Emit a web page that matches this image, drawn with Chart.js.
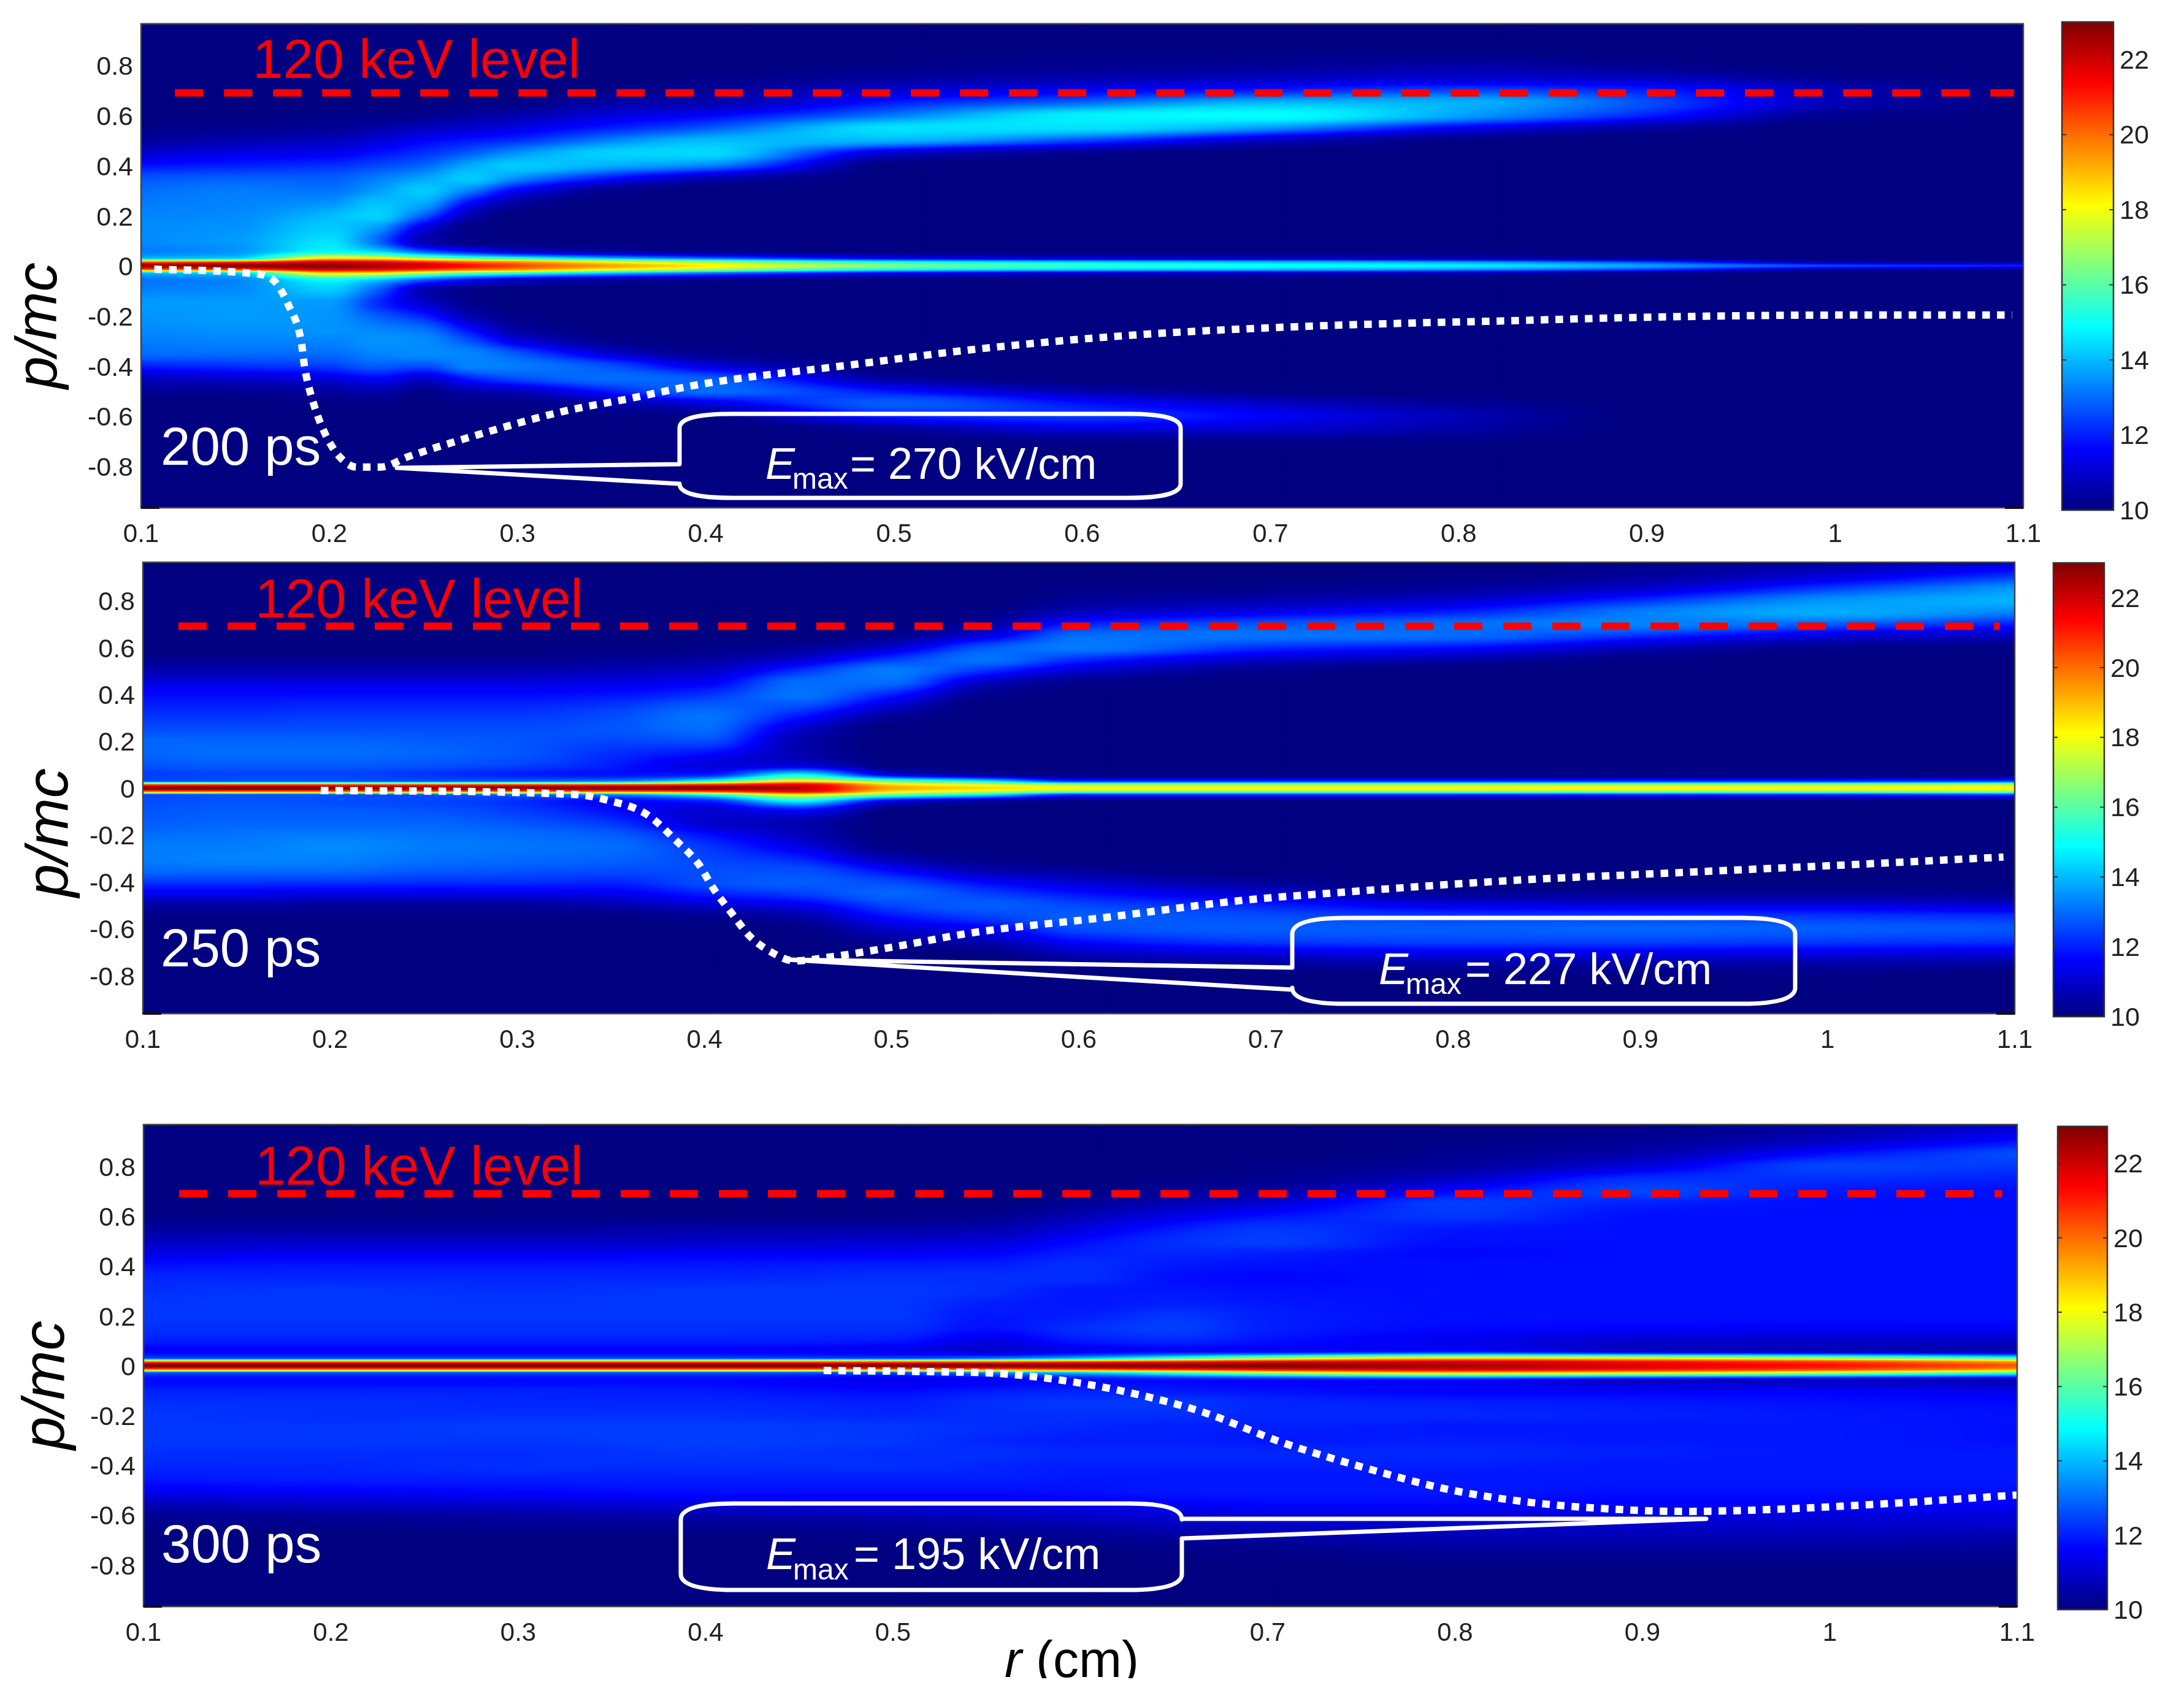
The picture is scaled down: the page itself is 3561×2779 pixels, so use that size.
<!DOCTYPE html>
<html>
<head>
<meta charset="utf-8">
<title>p/mc phase space</title>
<script src="https://cdn.jsdelivr.net/npm/chart.js@4/dist/chart.umd.min.js"></script>
<style>
  html, body { margin: 0; padding: 0; background: #fff; }
  #stage { position: relative; width: 3561px; height: 2779px; overflow: hidden; }
  #stage canvas { position: absolute; left: 0; top: 0; }
</style>
</head>
<body>
<div id="stage"></div>
<script>
const rTicks = [0.1, 0.2, 0.3, 0.4, 0.5, 0.6, 0.7, 0.8, 0.9, 1, 1.1];
const rTicks300 = [0.1, 0.2, 0.3, 0.4, 0.5, 0.7, 0.8, 0.9, 1, 1.1]; // 0.6 is hidden in the original
const pTicks = [0.8, 0.6, 0.4, 0.2, 0, -0.2, -0.4, -0.6, -0.8];
const barTicks = [10, 12, 14, 16, 18, 20, 22];

// momentum rows shared by the three maps, top to bottom
const pGrid = [0.96,0.9,0.85,0.8,0.75,0.7,0.65,0.6,0.55,0.5,0.45,0.4,0.35,0.3,0.25,0.2,0.15,0.1,0.06,0.03,0.015,0,
  -0.015,-0.03,-0.06,-0.1,-0.15,-0.2,-0.25,-0.3,-0.35,-0.4,-0.45,-0.5,-0.55,-0.6,-0.65,-0.7,-0.75,-0.8,-0.85,-0.9,-0.96];

// 200 ps: one row per r value, one entry per pGrid value
const r200 = [0.1,0.15,0.2,0.225,0.25,0.275,0.3,0.35,0.4,0.5,0.6,0.7,0.8,0.9,1,1.1];
const heat200 = [
  [10,10,10,10,10,10,10,10,10.1,10.4,11,11.8,12.7,13,13.2,13.3,13.4,13.4,13.2,14,20,22.8,20,14,13.1,13.3,13.6,13.5,13.4,13.2,13,12,10.8,10.3,10,10,10,10,10,10,10,10,10],
  [10,10,10,10,10,10,10,10,10.2,10.6,11.3,12,12.8,13.2,13.3,13.4,13.5,13.6,13.5,14.3,20.5,23,20.5,14.3,13.3,13.4,13.6,13.6,13.5,13.3,13,12.2,11,10.3,10,10,10,10,10,10,10,10,10],
  [10,10,10,10,10,10,10,10.1,10.3,10.8,11.4,12.2,12.8,13.1,13.5,14,14.2,14.5,14.8,18.5,21.8,22.8,21.8,18.5,14.8,14.2,13.6,13.5,13.5,13.3,13,12.4,11.2,10.4,10.1,10,10,10,10,10,10,10,10],
  [10,10,10,10,10,10,10,10.1,10.5,11.1,11.8,12.5,13.2,13.6,14.1,14.3,13.6,13,14.2,18.2,21.5,22.5,21.5,18.2,14,12.8,12.2,12.8,13.3,13.5,13.3,12.8,11.6,10.6,10.1,10,10,10,10,10,10,10,10],
  [10,10,10,10,10,10,10,10.2,10.8,11.6,12.2,12.9,13.7,14.2,13.8,12.8,11.2,10.6,12.5,17,20.8,22,20.8,17,12.5,10.6,11,12,13,13.4,13.4,12.6,11,10.2,10,10,10,10,10,10,10,10,10],
  [10,10,10,10,10,10,10.1,10.4,11,11.9,12.8,13.8,14.2,13.2,11.6,10.6,10.1,10.1,11.5,16,20,21.2,20,16,11.5,10.1,10.2,10.6,11.6,12.6,13.3,13.3,12,10.6,10.1,10,10,10,10,10,10,10,10],
  [10,10,10,10,10,10,10.1,10.6,11.3,12.2,13.5,14.2,13.4,11.5,10.4,10,10,10,10.8,15.3,19.5,20.5,19.5,15.3,10.8,10,10,10.1,10.4,11.2,12.7,13.2,12.6,10.8,10.1,10,10,10,10,10,10,10,10],
  [10,10,10,10,10,10.1,10.5,11.2,12,13.3,14.3,13.8,11.8,10.2,10,10,10,10,10.3,14,18,19.3,18,14,10.3,10,10,10,10,10.2,11,12.6,13,12,10.5,10.1,10,10,10,10,10,10,10],
  [10,10,10,10,10.1,10.3,10.6,11.6,12.7,14,14.4,13.3,10.7,10,10,10,10,10,10.1,13,17,18.3,17,13,10.1,10,10,10,10,10,10.2,11.2,12.8,13,11.2,10.1,10,10,10,10,10,10,10],
  [10,10,10,10.1,10.4,11,12,13.2,14.5,13.9,11,10,10,10,10,10,10,10,10,11.5,15,16.5,15,11.5,10,10,10,10,10,10,10,10,10.4,11.8,12.8,12,10.4,10,10,10,10,10,10],
  [10,10,10.1,10.2,10.6,11.5,13,14.7,14.5,12.5,10.2,10,10,10,10,10,10,10,10,11,14.3,15.5,14.3,11,10,10,10,10,10,10,10,10,10,10.6,11.8,12.3,11.2,10.2,10,10,10,10,10],
  [10,10,10.1,10.3,10.8,12,14,14.9,13.5,10.8,10,10,10,10,10,10,10,10,10,10.8,14,15,14,10.8,10,10,10,10,10,10,10,10,10,10.1,10.9,11.5,11,10.2,10,10,10,10,10],
  [10,10,10.1,10.5,11,12.5,13.9,13.7,11.5,10.1,10,10,10,10,10,10,10,10,10,10.6,13.5,14.7,13.5,10.6,10,10,10,10,10,10,10,10,10,10,10.3,10.7,10.5,10.1,10,10,10,10,10],
  [10,10,10,10.2,10.8,12,12.6,12,10.4,10,10,10,10,10,10,10,10,10,10,10.2,12.4,13.7,12.4,10.2,10,10,10,10,10,10,10,10,10,10,10,10,10,10,10,10,10,10,10],
  [10,10,10,10,10.2,10.7,10.7,10.2,10,10,10,10,10,10,10,10,10,10,10,10,10.5,12.5,10.5,10,10,10,10,10,10,10,10,10,10,10,10,10,10,10,10,10,10,10,10],
  [10,10,10,10,10,10,10,10,10,10,10,10,10,10,10,10,10,10,10,10,10.3,12,10.3,10,10,10,10,10,10,10,10,10,10,10,10,10,10,10,10,10,10,10,10]
];

// 250 ps
const r250 = [0.1,0.15,0.2,0.25,0.3,0.35,0.4,0.45,0.5,0.55,0.6,0.7,0.8,0.9,1,1.1];
const heat250 = [
  [10,10,10,10,10,10,10,10,10.2,10.6,11.2,11.7,12,12.3,12.6,12.9,12.9,12.7,12.4,12.5,20,23,20,12.5,12.6,12.7,12.8,13,13.2,13.2,13,12.3,11.4,10.5,10.1,10,10,10,10,10,10,10,10],
  [10,10,10,10,10,10,10,10,10.2,10.6,11.2,11.7,12,12.3,12.6,12.9,13,12.8,12.5,12.6,20,23,20,12.6,12.7,12.8,12.9,13.1,13.2,13.3,13,12.3,11.4,10.5,10.1,10,10,10,10,10,10,10,10],
  [10,10,10,10,10,10,10,10,10.2,10.6,11.2,11.7,12.1,12.4,12.6,12.9,13,12.8,12.5,12.6,20,23,20,12.6,12.6,12.8,12.9,13.2,13.4,13.3,13,12.3,11.3,10.4,10.1,10,10,10,10,10,10,10,10],
  [10,10,10,10,10,10,10,10,10.2,10.6,11.2,11.7,12.1,12.4,12.6,12.8,12.9,12.7,12.3,12.6,20,23,20,12.6,12.5,12.7,12.9,13.1,13.2,13.1,12.8,12.2,11.3,10.4,10.1,10,10,10,10,10,10,10,10],
  [10,10,10,10,10,10,10,10,10.2,10.6,11.2,11.7,12.1,12.4,12.6,12.7,12.7,12.5,12,12.8,20,23,20,12.8,12.2,12.4,12.7,13,13.1,13,12.7,12.2,11.3,10.4,10.1,10,10,10,10,10,10,10,10],
  [10,10,10,10,10,10,10,10,10.3,10.7,11.3,11.8,12.3,12.6,12.7,12.5,12.2,12,11.8,13.2,20,23,20,13.2,11.6,11.8,12.3,12.8,13,12.9,12.6,12.1,11.4,10.6,10.1,10,10,10,10,10,10,10,10],
  [10,10,10,10,10,10,10,10.1,10.4,10.9,11.5,12.2,12.8,13.1,13,12.6,11.8,11.2,11.8,15,20.5,23,20.5,15,11.8,11,11,11.8,12.3,12.5,12.6,12.6,12,11,10.2,10,10,10,10,10,10,10,10],
  [10,10,10,10,10,10,10,10.3,11,12.2,13,13.1,12.6,11.8,11,10.6,10.6,11,14.5,18,21.5,22.3,21.5,18,14.5,11.5,10.6,10.8,11.3,12,12.6,12.8,12.4,11.4,10.5,10.1,10,10,10,10,10,10,10],
  [10,10,10,10,10,10,10.2,11,12.3,13.2,13,12,11,10.3,10,10,10,10,11,16,18.5,19.3,18.5,16,11,10,10,10,10.1,10.6,11.6,12.5,12.9,12.5,11.8,11,10.4,10,10,10,10,10,10],
  [10,10,10,10,10.1,10.4,11.2,12.7,13.1,12.2,10.8,10.2,10,10,10,10,10,10,10.2,14.5,17.5,18.6,17.5,14.5,10.2,10,10,10,10,10.1,10.6,11.6,12.4,12.8,12.4,11.5,10.7,10.1,10,10,10,10,10],
  [10,10,10.1,10.3,10.8,12,13,13.2,12.2,11,10.2,10,10,10,10,10,10,10,10,12,16.5,18.2,16.5,12,10,10,10,10,10,10,10.3,11,11.8,12.5,12.8,12.6,11.8,10.9,10.2,10,10,10,10],
  [10,10,10.2,10.6,11.4,12.7,13.1,12.2,11,10.2,10,10,10,10,10,10,10,10,10,12,16.5,18.2,16.5,12,10,10,10,10,10,10,10,10.3,11,12,12.6,12.8,12.4,11.3,10.4,10,10,10,10],
  [10,10.1,10.4,11,12,13,13,11.8,10.6,10,10,10,10,10,10,10,10,10,10,12,16.5,18.2,16.5,12,10,10,10,10,10,10,10,10,10.3,11.3,12.4,12.8,12.5,11.5,10.5,10.1,10,10,10],
  [10.1,10.4,11,12.2,13.2,13.3,12.2,10.8,10.1,10,10,10,10,10,10,10,10,10,10,12,16.5,18.3,16.5,12,10,10,10,10,10,10,10,10,10.3,11.2,12.4,12.9,12.5,11.5,10.5,10.1,10,10,10],
  [10.4,11.2,12.4,13.5,13.8,12.8,11.2,10.2,10,10,10,10,10,10,10,10,10,10,10,12,16.5,18.2,16.5,12,10,10,10,10,10,10,10,10,10.3,11.2,12.3,12.8,12.4,11.4,10.5,10.1,10,10,10],
  [11,12.4,13.6,13.9,13.3,12,10.8,10.1,10,10,10,10,10,10,10,10,10,10,10,12.3,16.8,18.3,16.8,12.3,10,10,10,10,10,10,10,10,10.2,11,12.2,12.7,12.3,11.3,10.4,10,10,10,10]
];

// 300 ps
const r300 = [0.1,0.2,0.3,0.4,0.5,0.55,0.6,0.65,0.7,0.8,0.9,1,1.1];
const heat300 = [
  [10,10,10,10,10,10,10,10.1,10.4,10.8,11.3,11.8,12.1,12.2,12.3,12.3,12.2,12,11.6,12.5,20,23,20,12.5,11.7,12,12.2,12.3,12.3,12.3,12.2,12.1,11.9,11.5,10.8,10.3,10.1,10,10,10,10,10,10],
  [10,10,10,10,10,10,10,10.1,10.4,10.9,11.4,11.9,12.1,12.3,12.3,12.3,12.2,12,11.6,12.5,20,23,20,12.5,11.7,12,12.2,12.2,12.3,12.3,12.2,12.1,12,11.6,11,10.4,10.1,10,10,10,10,10,10],
  [10,10,10,10,10,10,10,10.1,10.4,10.9,11.4,11.9,12.1,12.2,12.3,12.3,12.2,12,11.6,12.5,20,23,20,12.5,11.7,12,12.1,12.2,12.4,12.3,12.2,12.2,12,11.7,11.1,10.5,10.2,10,10,10,10,10,10],
  [10,10,10,10,10,10,10,10.1,10.5,10.9,11.5,11.9,12.1,12.3,12.3,12.3,12.2,12,11.6,12.5,20,23,20,12.5,11.7,11.9,12.1,12.2,12.4,12.4,12.3,12.2,12,11.8,11.3,10.6,10.2,10,10,10,10,10,10],
  [10,10,10,10,10,10,10,10.1,10.5,11,11.5,12,12.2,12.3,12.3,12.3,12.2,11.9,11.4,12.5,20,23,20,12.5,11.4,11.7,12,12.1,12.3,12.3,12.2,12.2,12,11.8,11.4,10.7,10.3,10.1,10,10,10,10,10],
  [10,10,10,10,10,10,10,10.2,10.6,11.1,11.6,12,12.2,12.2,12,11.9,11.8,11.3,11,13,20,23,20,13.2,11.5,11.9,12.2,12.2,12.2,12.1,12.2,12.1,12,11.8,11.4,10.8,10.4,10.1,10,10,10,10,10],
  [10,10,10,10,10,10.1,10.3,10.7,11.2,11.7,12,12.2,12.2,11.9,11.9,12,12.2,11.9,11.4,14,20.5,23,20.5,14,11.7,12,12.3,12.2,12.1,12,12.1,12,11.9,11.8,11.5,11,10.5,10.2,10,10,10,10,10],
  [10,10,10,10,10.1,10.3,10.7,11.3,11.9,12.2,12.1,11.9,11.8,11.9,12,12.3,12.4,12.1,11.6,15.5,21,23,21,15.5,11.7,11.9,12.3,12.2,12,12,12.1,12,11.9,11.9,11.6,11.1,10.7,10.3,10.1,10,10,10,10],
  [10,10,10,10.1,10.2,10.5,11.1,11.8,12.3,12.4,12,11.8,11.7,11.8,11.9,12,12,11.8,11.5,17,21.5,23,21.5,17,11.6,11.8,12.1,12.1,12,11.9,12.1,12,11.9,11.9,11.7,11.2,10.8,10.4,10.1,10,10,10,10],
  [10,10.1,10.2,10.4,10.9,11.7,12.4,12.3,11.9,11.8,11.7,11.8,11.8,11.8,11.8,11.8,11.7,11.4,11.6,18.5,21.8,22.5,21.8,18.5,11.6,11.6,12,12.1,11.9,12,12.1,12,11.9,11.9,11.7,11.2,10.9,10.6,10.3,10.1,10,10,10],
  [10.1,10.3,10.6,11.2,12.2,12.5,12,11.8,11.8,11.8,11.8,11.8,11.8,11.8,11.8,11.8,11.6,11,10.8,18,21.2,21.8,21.2,18,10.9,11.5,11.9,12,11.9,11.9,12,11.9,11.9,11.8,11.6,11.2,10.9,10.6,10.3,10.1,10,10,10],
  [10.4,10.9,11.8,12.5,12.2,11.9,11.8,11.8,11.8,11.8,11.8,11.8,11.8,11.8,11.8,11.8,11.5,11,10.7,17,20.5,21.2,20.5,17,10.8,11.5,11.8,11.9,11.9,11.9,11.9,11.9,11.9,11.8,11.6,11.2,10.9,10.6,10.3,10.1,10,10,10],
  [11,11.8,12.6,12.3,12,11.8,11.8,11.8,11.8,11.8,11.8,11.8,11.8,11.8,11.8,11.8,11.5,10.9,10.6,15.5,19.3,20.3,19.3,15.5,10.7,11.3,11.7,11.8,11.8,11.8,11.9,11.9,11.9,11.8,11.6,11.2,10.9,10.5,10.3,10.1,10,10,10]
];

// white dotted field curves
const curveR200 = [0.107,0.155,0.17,0.1785,0.185,0.187,0.191,0.197,0.2046,0.2146,0.227,0.242,0.274,0.324,0.357,0.399,0.478,0.545,0.627,0.708,0.789,0.814,0.903,1,1.094];
const curveP200 = [-0.014,-0.028,-0.056,-0.16,-0.298,-0.41,-0.534,-0.658,-0.755,-0.804,-0.804,-0.762,-0.686,-0.582,-0.534,-0.471,-0.395,-0.332,-0.277,-0.245,-0.226,-0.222,-0.205,-0.197,-0.197];
const curveR250 = [0.195,0.331,0.347,0.369,0.385,0.397,0.405,0.415,0.424,0.436,0.448,0.4685,0.5,0.544,0.615,0.686,0.733,0.827,0.922,1.0165,1.094];
const curveP250 = [-0.011,-0.028,-0.05,-0.112,-0.226,-0.326,-0.432,-0.539,-0.631,-0.702,-0.738,-0.72,-0.68,-0.617,-0.552,-0.481,-0.45,-0.397,-0.361,-0.326,-0.295];
const curveR300 = [0.463,0.523,0.557,0.587,0.622,0.665,0.708,0.751,0.794,0.837,0.88,0.923,0.966,1.03,1.1];
const curveP300 = [-0.02,-0.025,-0.032,-0.056,-0.102,-0.186,-0.31,-0.409,-0.494,-0.547,-0.575,-0.586,-0.579,-0.555,-0.52];

// red 120 keV dashed level
const levelR200 = [0.118, 1.095];
const levelR250 = [0.119, 1.092];
const levelR300 = [0.119, 1.092];
const levelP = 0.69;

const pageW = 3561, pageH = 2779;
const fontName = '"Liberation Sans", Arial, sans-serif';

const panels = [
  {
    plot: { l: 230, t: 27, r: 3299, b: 828 }, pMax: 0.966, bar: { l: 3362, r: 3446, t: 30, b: 832 },
    rows: r200, heat: heat200, curveR: curveR200, curveP: curveP200, levelR: levelR200, time: '200 ps', ticks: rTicks,
    timeAt: [262, 758], levelAt: [412, 127], axisAt: [92, 531], axisSize: 95,
    call: { l: 1108, r: 1925, t: 675, b: 812, rx: 86, ry: 23, tip: [647, 763], y1: 757, y2: 789, side: 'left' },
    eText: '= 270 kV/cm', eAt: [1248, 781], subAt: [1292, 797], restAt: 1386
  },
  {
    plot: { l: 233, t: 917, r: 3285, b: 1653 }, pMax: 0.963, bar: { l: 3348, r: 3431, t: 918, b: 1658 },
    rows: r250, heat: heat250, curveR: curveR250, curveP: curveP250, levelR: levelR250, time: '250 ps', ticks: rTicks,
    timeAt: [262, 1576], levelAt: [416, 1007], axisAt: [110, 1358], axisSize: 97,
    call: { l: 2107, r: 2927, t: 1497, b: 1637, rx: 86, ry: 26, tip: [1283, 1565], y1: 1578, y2: 1614, side: 'left' },
    eText: '= 227 kV/cm', eAt: [2248, 1605], subAt: [2292, 1621], restAt: 2389
  },
  {
    plot: { l: 234, t: 1834, r: 3289, b: 2620 }, pMax: 0.968, bar: { l: 3355, r: 3436, t: 1837, b: 2625 },
    rows: r300, heat: heat300, curveR: curveR300, curveP: curveP300, levelR: levelR300, time: '300 ps', ticks: rTicks300,
    timeAt: [263, 2548], levelAt: [416, 1932], axisAt: [104, 2259], axisSize: 97,
    call: { l: 1110, r: 1927, t: 2452, b: 2593, rx: 86, ry: 26, tip: [2782, 2477], y1: 2477, y2: 2509, side: 'right' },
    eText: '= 195 kV/cm', eAt: [1249, 2559], subAt: [1293, 2576], restAt: 1392
  }
];

// matlab jet on the 10..23 colorbar range
function jet(v) {
  const t = (v - 10) / 13;
  const c = x => Math.max(0, Math.min(1, 1.5 - Math.abs(4 * t - x))) * 255;
  return [c(3), c(2), c(1)];
}

function locate(grid, v) {
  const up = grid[1] > grid[0];
  let i = 0;
  while (i < grid.length - 2 && (up ? v > grid[i + 1] : v < grid[i + 1])) i++;
  const f = (v - grid[i]) / (grid[i + 1] - grid[i]);
  return [i, Math.max(0, Math.min(1, f))];
}

// tangents for a monotone hermite fit, keeps the map from ringing around the thin p=0 band
function slopes(xs, ys) {
  const n = xs.length, d = [], m = [];
  for (let i = 0; i < n - 1; i++) d.push((ys[i + 1] - ys[i]) / (xs[i + 1] - xs[i]));
  m[0] = d[0];
  m[n - 1] = d[n - 2];
  for (let i = 1; i < n - 1; i++) {
    m[i] = d[i - 1] * d[i] <= 0 ? 0 : 2 * d[i - 1] * d[i] / (d[i - 1] + d[i]);
  }
  return m;
}

function hermite(xs, ys, m, i, t) {
  const h = xs[i + 1] - xs[i], t2 = t * t, t3 = t2 * t;
  return (2 * t3 - 3 * t2 + 1) * ys[i] + (t3 - 2 * t2 + t) * h * m[i] +
    (3 * t2 - 2 * t3) * ys[i + 1] + (t3 - t2) * h * m[i + 1];
}

// heat map painted pixel by pixel through the chart scales
const heatPlugin = {
  id: 'heatPlugin',
  beforeDatasetsDraw(chart, args, opts) {
    const { left, top, right, bottom } = chart.chartArea;
    const x0 = Math.round(left), y0 = Math.round(top);
    const w = Math.round(right) - x0, h = Math.round(bottom) - y0;
    const off = document.createElement('canvas');
    off.width = w; off.height = h;
    const octx = off.getContext('2d');
    const img = octx.createImageData(w, h);
    const cols = [];
    for (let x = 0; x < w; x++) cols.push(locate(opts.rows, chart.scales.x.getValueForPixel(x0 + x + 0.5)));
    const pSlopes = opts.heat.map(col => slopes(pGrid, col));
    let k = 0;
    for (let y = 0; y < h; y++) {
      const [pi, pf] = locate(pGrid, chart.scales.y.getValueForPixel(y0 + y + 0.5));
      const vals = opts.heat.map((col, c) => hermite(pGrid, col, pSlopes[c], pi, pf));
      const rSlopes = slopes(opts.rows, vals);
      for (let x = 0; x < w; x++) {
        const c = jet(hermite(opts.rows, vals, rSlopes, cols[x][0], cols[x][1]));
        img.data[k++] = c[0]; img.data[k++] = c[1]; img.data[k++] = c[2]; img.data[k++] = 255;
      }
    }
    octx.putImageData(img, 0, 0);
    chart.ctx.drawImage(off, x0, y0);
  }
};

function drawCallout(ctx, c) {
  ctx.beginPath();
  ctx.moveTo(c.l, c.t + c.ry);
  ctx.quadraticCurveTo(c.l, c.t, c.l + c.rx, c.t);
  ctx.lineTo(c.r - c.rx, c.t);
  ctx.quadraticCurveTo(c.r, c.t, c.r, c.t + c.ry);
  if (c.side === 'right') {
    ctx.lineTo(c.r, c.y1);
    ctx.lineTo(c.tip[0], c.tip[1]);
    ctx.lineTo(c.r, c.y2);
  }
  ctx.lineTo(c.r, c.b - c.ry);
  ctx.quadraticCurveTo(c.r, c.b, c.r - c.rx, c.b);
  ctx.lineTo(c.l + c.rx, c.b);
  ctx.quadraticCurveTo(c.l, c.b, c.l, c.b - c.ry);
  if (c.side === 'left') {
    ctx.lineTo(c.l, c.y2);
    ctx.lineTo(c.tip[0], c.tip[1]);
    ctx.lineTo(c.l, c.y1);
  }
  ctx.closePath();
  ctx.strokeStyle = '#fff';
  ctx.lineWidth = 7;
  ctx.lineJoin = 'round';
  ctx.stroke();
}

const notePlugin = {
  id: 'notePlugin',
  afterDatasetsDraw(chart, args, opts) {
    const ctx = chart.ctx, p = opts.panel, a = chart.chartArea;
    ctx.save();
    ctx.strokeStyle = '#444';
    ctx.lineWidth = 2.5;
    ctx.strokeRect(a.left, a.top, a.right - a.left, a.bottom - a.top);
    ctx.fillStyle = '#111';
    ctx.fillRect(a.left, a.bottom - 2, 30, 4);
    ctx.fillRect(a.right - 30, a.bottom - 2, 30, 4);

    drawCallout(ctx, p.call);
    ctx.textBaseline = 'alphabetic';
    ctx.textAlign = 'left';
    ctx.fillStyle = '#fff';
    ctx.font = 'italic 72px ' + fontName;
    ctx.fillText('E', p.eAt[0], p.eAt[1]);
    ctx.font = '48px ' + fontName;
    ctx.fillText('max', p.subAt[0], p.subAt[1]);
    ctx.font = '72px ' + fontName;
    ctx.fillText(p.eText, p.restAt, p.eAt[1]);
    ctx.font = '87px ' + fontName;
    ctx.fillText(p.time, p.timeAt[0], p.timeAt[1]);
    ctx.fillStyle = '#ff0000';
    ctx.font = '89px ' + fontName;
    ctx.fillText('120 keV level', p.levelAt[0], p.levelAt[1]);

    ctx.fillStyle = '#000';
    ctx.font = 'italic ' + p.axisSize + 'px ' + fontName;
    ctx.translate(p.axisAt[0], p.axisAt[1]);
    ctx.rotate(-Math.PI / 2);
    ctx.textAlign = 'center';
    ctx.fillText('p/mc', 0, 0);
    ctx.restore();

    if (opts.showR) {
      ctx.save();
      ctx.beginPath();
      ctx.rect(1500, 2620, 500, 117);
      ctx.clip();
      ctx.fillStyle = '#000';
      ctx.textAlign = 'left';
      ctx.textBaseline = 'alphabetic';
      ctx.font = 'italic 84px ' + fontName;
      ctx.fillText('r', 1638, 2735);
      ctx.font = '84px ' + fontName;
      ctx.fillText('(cm)', 1689, 2735);
      ctx.restore();
    }
  }
};

const barPlugin = {
  id: 'barPlugin',
  beforeDatasetsDraw(chart) {
    const ctx = chart.ctx, a = chart.chartArea, y = chart.scales.y;
    for (let py = Math.round(a.top); py < Math.round(a.bottom); py++) {
      const c = jet(y.getValueForPixel(py + 0.5));
      ctx.fillStyle = 'rgb(' + c.join(',') + ')';
      ctx.fillRect(a.left, py, a.right - a.left, 1);
    }
    ctx.strokeStyle = '#333';
    ctx.lineWidth = 2.5;
    ctx.strokeRect(a.left, a.top, a.right - a.left, a.bottom - a.top);
    ctx.lineWidth = 2;
    barTicks.forEach(v => {
      const py = y.getPixelForValue(v);
      ctx.beginPath();
      ctx.moveTo(a.left, py); ctx.lineTo(a.left + 7, py);
      ctx.moveTo(a.right - 7, py); ctx.lineTo(a.right, py);
      ctx.stroke();
    });
  }
};

function addCanvas() {
  const canvas = document.createElement('canvas');
  canvas.style.width = pageW + 'px';
  canvas.style.height = pageH + 'px';
  canvas.width = pageW;
  canvas.height = pageH;
  document.getElementById('stage').appendChild(canvas);
  return canvas;
}

const tickText = v => String(+Number(v).toFixed(1));

panels.forEach((p, i) => {
  new Chart(addCanvas(), {
    type: 'scatter',
    data: {
      datasets: [
        {
          data: p.levelR.map(r => ({ x: r, y: levelP })),
          showLine: true, pointRadius: 0, borderColor: '#ff0000', borderWidth: 12, borderDash: [46, 34]
        },
        {
          data: p.curveR.map((r, j) => ({ x: r, y: p.curveP[j] })),
          showLine: true, pointRadius: 0, borderColor: '#ffffff', borderWidth: 12, borderDash: [12.5, 11.5],
          cubicInterpolationMode: 'monotone'
        }
      ]
    },
    plugins: [heatPlugin, notePlugin],
    options: {
      responsive: false,
      animation: false,
      devicePixelRatio: 1,
      layout: { autoPadding: false, padding: { top: p.plot.t, right: pageW - p.plot.r, left: 0, bottom: 0 } },
      plugins: {
        legend: { display: false },
        tooltip: { enabled: false },
        heatPlugin: { rows: p.rows, heat: p.heat },
        notePlugin: { panel: p, showR: i === 2 }
      },
      scales: {
        x: {
          type: 'linear', min: 0.1, max: 1.1,
          afterBuildTicks: s => { s.ticks = p.ticks.map(v => ({ value: v })); },
          afterFit: s => { s.height = pageH - p.plot.b; },
          grid: { display: false, drawTicks: false },
          border: { display: false },
          ticks: {
            maxRotation: 0, autoSkip: false, padding: 19, color: '#222',
            font: { family: fontName, size: 42 }, callback: tickText
          }
        },
        y: {
          type: 'linear', min: -p.pMax, max: p.pMax,
          afterBuildTicks: s => { s.ticks = pTicks.map(v => ({ value: v })); },
          afterFit: s => { s.width = p.plot.l; },
          grid: { display: false, drawTicks: false },
          border: { display: false },
          ticks: {
            autoSkip: false, padding: 13, color: '#222', labelOffset: 4,
            font: { family: fontName, size: 43 }, callback: tickText
          }
        }
      }
    }
  });

  new Chart(addCanvas(), {
    type: 'scatter',
    data: { datasets: [] },
    plugins: [barPlugin],
    options: {
      responsive: false,
      animation: false,
      devicePixelRatio: 1,
      layout: { autoPadding: false, padding: { top: p.bar.t, left: p.bar.l, bottom: pageH - p.bar.b, right: 0 } },
      plugins: { legend: { display: false }, tooltip: { enabled: false } },
      scales: {
        x: { type: 'linear', display: false },
        y: {
          type: 'linear', position: 'right', min: 10, max: 23,
          afterBuildTicks: s => { s.ticks = barTicks.map(v => ({ value: v })); },
          afterFit: s => { s.width = pageW - p.bar.r; },
          grid: { display: false, drawTicks: false },
          border: { display: false },
          ticks: {
            autoSkip: false, padding: 10, color: '#222', labelOffset: 3,
            font: { family: fontName, size: 43 }
          }
        }
      }
    }
  });
});
</script>
</body>
</html>
